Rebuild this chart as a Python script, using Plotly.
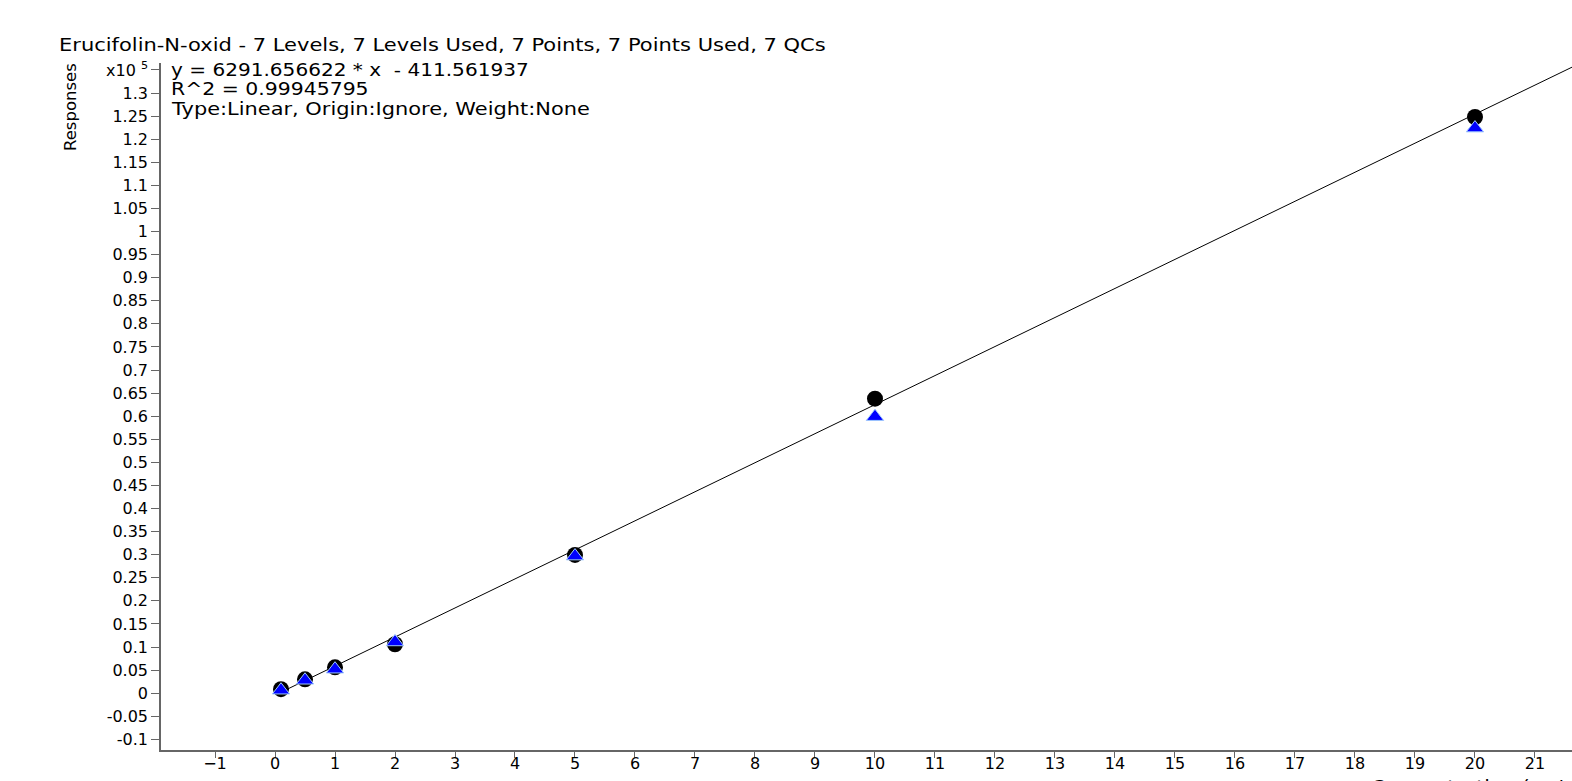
import plotly.graph_objects as go

# ---- data ----
concentration = [0.1, 0.5, 1, 2, 5, 10, 20]
cal_response = [870, 3000, 5600, 10600, 29950, 63800, 124800]
qc_response = [650, 2800, 5200, 11100, 29700, 59900, 122400]
slope = 6291.656622
intercept = -411.561937
r2 = 0.99945795
title_text = "Erucifolin-N-oxid - 7 Levels, 7 Levels Used, 7 Points, 7 Points Used, 7 QCs"
y_tick_vals = [i * 5000 for i in range(-2, 28)]
x_tick_vals = list(range(-1, 22))

W, H = 1572, 781
L, R, T, B = 161, 0, 63, 31
FONT = "DejaVu Sans, Verdana, sans-serif"

x_range = [-1.9, 21.617]
y_range = [-12300, 136500]

fit_x = [concentration[0], 23]
fit_y = [slope * v + intercept for v in fit_x]

y_tick_text = []
for v in y_tick_vals:
    if v == 135000:
        y_tick_text.append("x10 <sup>5</sup>")
    else:
        s = ("%.2f" % (v / 1e5)).rstrip("0").rstrip(".")
        if s == "-0":
            s = "0"
        y_tick_text.append(s)

fig = go.Figure()
fig.add_trace(go.Scatter(x=fit_x, y=fit_y, mode="lines",
                         line=dict(color="black", width=1), showlegend=False))
fig.add_trace(go.Scatter(x=concentration, y=cal_response, mode="markers",
                         marker=dict(symbol="circle", size=16, color="black"),
                         showlegend=False))
fig.add_trace(go.Scatter(x=concentration, y=qc_response, mode="markers",
                         marker=dict(symbol="triangle-up", size=15, color="#0000ff",
                                     line=dict(color="#9ec8ff", width=1)),
                         showlegend=False))

fig.update_layout(
    width=W, height=H,
    margin=dict(l=L, r=R, t=T, b=B, pad=0, autoexpand=False),
    paper_bgcolor="white", plot_bgcolor="white",
    font=dict(family=FONT, size=16, color="black"),
    xaxis=dict(range=x_range, tickvals=x_tick_vals, ticks="outside", ticklen=6,
               tickcolor="#666", showline=True, linecolor="#666", linewidth=1.5,
               showgrid=False, zeroline=False, tickfont=dict(size=16),
               automargin=False, ticklabelstandoff=-8),
    yaxis=dict(range=y_range, tickvals=y_tick_vals, ticktext=y_tick_text,
               ticks="outside", ticklen=8, tickcolor="#666", showline=True,
               linecolor="#666", linewidth=1.5, showgrid=False, zeroline=False,
               tickfont=dict(size=16), automargin=False),
)

plot_h = H - T - B

def py(pix):
    return (H - B - pix) / plot_h

def px(pix):
    return (pix - L) / (W - L - R)

fig.add_annotation(text=title_text, xref="paper", yref="paper",
                   x=px(57), y=py(45), xanchor="left", yanchor="middle",
                   align="left", showarrow=False, font=dict(size=17))
eq_lines = ["y = %.6f * x  - %.6f" % (slope, -intercept),
            "R^2 = %.8f" % r2,
            "Type:Linear, Origin:Ignore, Weight:None"]
for i, t in enumerate(eq_lines):
    fig.add_annotation(text=t, xref="paper", yref="paper",
                       x=px(169), y=py(70 + 19.5 * i),
                       xanchor="left", yanchor="middle", align="left",
                       showarrow=False, font=dict(size=17))
fig.add_annotation(text="Responses", xref="paper", yref="paper",
                   x=px(70), y=py(107), textangle=-90,
                   xanchor="center", yanchor="middle", showarrow=False,
                   font=dict(size=16.5))
fig.add_annotation(text="Concentration (ng/ml)", xref="paper", yref="paper",
                   x=px(1369), y=py(775), xanchor="left", align="left",
                   yanchor="top", showarrow=False, font=dict(size=17))

post_js = """
document.documentElement.style.margin='0';
document.body.style.margin='0';
document.body.style.overflow='hidden';
(function(){
  function stretch(){
    var gd = document.getElementById('{plot_id}');
    if(!gd) return;
    gd.querySelectorAll('text.annotation-text').forEach(function(t){
      if(t.getAttribute('data-st')) return;
      var txt = t.textContent;
      if(txt === 'Responses') return;
      var f = 1.2;
      if(txt.indexOf('Erucifolin') === 0) f = 1.235;
      if(txt.indexOf('Type:') === 0) f = 1.23;
      if(txt.indexOf('y = ') === 0) f = 1.18;
      var w = t.getComputedTextLength();
      if(!w) return;
      t.setAttribute('textLength', (w*f).toFixed(1));
      t.setAttribute('lengthAdjust', 'spacingAndGlyphs');
      t.setAttribute('data-st', '1');
    });
  }
  stretch(); setTimeout(stretch, 30); setTimeout(stretch, 250);
})();
"""

fig.write_html("out.html", post_script=post_js,
               config={"displayModeBar": False})
